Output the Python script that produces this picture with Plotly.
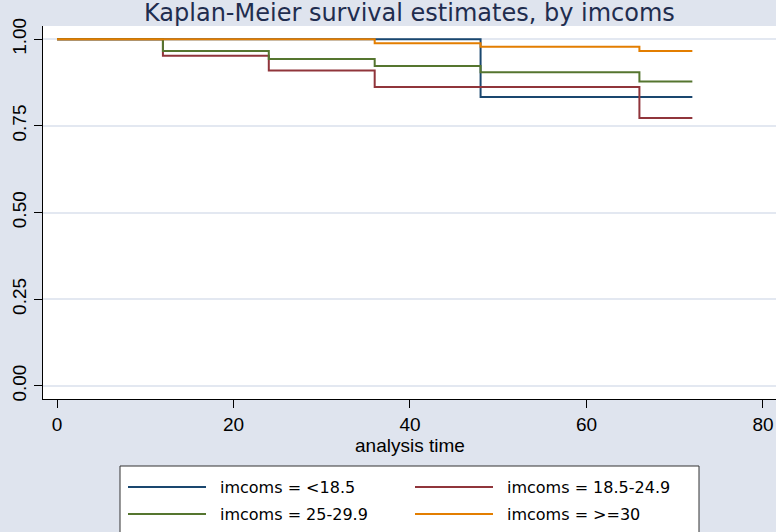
import plotly.graph_objects as go

# Kaplan-Meier step estimates by BMI group (imcoms)
time_pts = [0, 12, 24, 36, 48, 66, 72]
surv_lt185 = [1.0, 1.0, 1.0, 1.0, 0.833, 0.833, 0.833]
surv_185_249 = [1.0, 0.952, 0.910, 0.862, 0.862, 0.773, 0.773]
surv_25_299 = [1.0, 0.966, 0.943, 0.923, 0.905, 0.878, 0.878]
surv_ge30 = [1.0, 1.0, 1.0, 0.988, 0.978, 0.966, 0.966]

group_labels = ["imcoms = <18.5", "imcoms = 18.5-24.9",
                "imcoms = 25-29.9", "imcoms = >=30"]
group_colors = ["#1a476f", "#90353b", "#55752f", "#e37e00"]

x_ticks = [0, 20, 40, 60, 80]
y_ticks = [0, 0.25, 0.5, 0.75, 1.0]
y_ticklabels = ["0.00", "0.25", "0.50", "0.75", "1.00"]
x_title = "analysis time"

W, H = 776, 532
ML, MR, MT, MB = 43, 0, 26, 133
BG = "#dfe4ee"


def px_x(px):
    return (px - ML) / (W - ML - MR)


def px_y(py):
    return (H - MB - py) / (H - MB - MT)


series = [surv_lt185, surv_185_249, surv_25_299, surv_ge30]

fig = go.Figure()
for label, color, surv in zip(group_labels, group_colors, series):
    fig.add_trace(go.Scatter(
        x=time_pts, y=surv, mode="lines", name=label,
        line=dict(color=color, width=2, shape="hv"),
        showlegend=False,
    ))

tick_font = dict(family="Liberation Sans, Arial, sans-serif", size=19, color="black")

fig.update_layout(
    width=W, height=H,
    margin=dict(l=ML, r=MR, t=MT, b=MB, autoexpand=False),
    paper_bgcolor=BG, plot_bgcolor="white",
    xaxis=dict(
        range=[-1.59, 81.48], tickvals=x_ticks, ticks="outside", ticklen=8,
        tickcolor="black", showline=True, linecolor="black", linewidth=1,
        showgrid=False, zeroline=False, tickfont=tick_font,
    ),
    yaxis=dict(
        range=[-0.0375, 1.038], tickvals=y_ticks, ticktext=y_ticklabels,
        ticks="outside", ticklen=8, tickcolor="black", tickangle=-90,
        showline=True, linecolor="black", linewidth=1,
        showgrid=True, gridcolor="#e3e8f1", gridwidth=2, zeroline=False,
        tickfont=tick_font,
    ),
)

# x-axis title, centred under the 40 tick
fig.add_annotation(
    text=x_title, xref="x", yref="paper", x=40, y=px_y(445),
    xanchor="center", yanchor="middle", showarrow=False, font=tick_font,
)

# Title
fig.add_annotation(
    text="Kaplan-Meier survival estimates, by imcoms",
    xref="paper", yref="paper", x=0.5, y=px_y(13),
    xanchor="center", yanchor="middle", showarrow=False,
    font=dict(family="DejaVu Sans, sans-serif", size=24, color="#1f2d4f"),
)

# Legend box
fig.add_shape(type="rect", xref="paper", yref="paper",
              x0=px_x(120), x1=px_x(699), y0=px_y(548), y1=px_y(466),
              line=dict(color="#333333", width=1), fillcolor="white",
              layer="above")

legend_cols = [(128, 206, 218), (415, 493, 505)]
legend_rows = [487, 514]
for i, (label, color) in enumerate(zip(group_labels, group_colors)):
    lx0, lx1, tx = legend_cols[i % 2]
    ry = legend_rows[i // 2]
    fig.add_shape(type="line", xref="paper", yref="paper",
                  x0=px_x(lx0), x1=px_x(lx1), y0=px_y(ry), y1=px_y(ry),
                  line=dict(color=color, width=2), layer="above")
    fig.add_annotation(
        text=label, xref="paper", yref="paper", x=px_x(tx), y=px_y(ry),
        xanchor="left", yanchor="middle", showarrow=False,
        font=dict(family="DejaVu Sans, sans-serif", size=16, color="black"),
    )

fig.write_html("out.html")
